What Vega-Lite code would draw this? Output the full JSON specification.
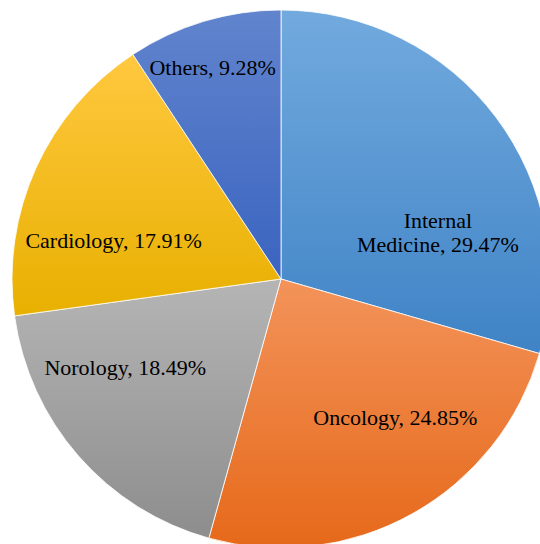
{
  "$schema": "https://vega.github.io/schema/vega-lite/v6.json",
  "width": 562,
  "height": 558,
  "padding": 0,
  "autosize": {"type": "none"},
  "background": "white",
  "config": {"view": {"stroke": null}},
  "data": {
    "values": [
      {"category": "Internal Medicine", "label": "Internal\nMedicine, 29.47%", "value": 29.47, "order": 1},
      {"category": "Oncology", "label": "Oncology, 24.85%", "value": 24.85, "order": 2},
      {"category": "Norology", "label": "Norology, 18.49%", "value": 18.49, "order": 3},
      {"category": "Cardiology", "label": "Cardiology, 17.91%", "value": 17.91, "order": 4},
      {"category": "Others", "label": "Others, 9.28%", "value": 9.28, "order": 5}
    ]
  },
  "encoding": {
    "theta": {"field": "value", "type": "quantitative", "stack": true, "scale": {"domain": [0, 100]}},
    "order": {"field": "order", "type": "quantitative"},
    "detail": {"field": "category", "type": "nominal"}
  },
  "layer": [
    {
      "mark": {"type": "arc", "outerRadius": 269, "stroke": "white", "strokeWidth": 0.8},
      "encoding": {
        "color": {
          "condition": [
            {"test": "datum.category === 'Internal Medicine'", "value": {"gradient": "linear", "x1": 0, "y1": 0, "x2": 0, "y2": 1, "stops": [{"offset": 0, "color": "#72aade"}, {"offset": 1, "color": "#3f83c6"}]}},
            {"test": "datum.category === 'Oncology'", "value": {"gradient": "linear", "x1": 0, "y1": 0, "x2": 0, "y2": 1, "stops": [{"offset": 0, "color": "#f3935a"}, {"offset": 1, "color": "#e6691a"}]}},
            {"test": "datum.category === 'Norology'", "value": {"gradient": "linear", "x1": 0, "y1": 0, "x2": 0, "y2": 1, "stops": [{"offset": 0, "color": "#b5b5b5"}, {"offset": 1, "color": "#8d8d8d"}]}},
            {"test": "datum.category === 'Cardiology'", "value": {"gradient": "linear", "x1": 0, "y1": 0, "x2": 0, "y2": 1, "stops": [{"offset": 0, "color": "#ffc83f"}, {"offset": 1, "color": "#e8b000"}]}}
          ],
          "value": {"gradient": "linear", "x1": 0, "y1": 0, "x2": 0, "y2": 1, "stops": [{"offset": 0, "color": "#6184cd"}, {"offset": 1, "color": "#3a64c0"}]}
        }
      }
    },
    {
      "mark": {
        "type": "text", "radius": 175, "font": "Liberation Serif", "fontSize": 22, "color": "black",
        "align": "center", "baseline": "middle", "lineBreak": "\n", "lineHeight": 24,
        "dx": {"expr": "datum.category === 'Internal Medicine' ? 17 : datum.category === 'Oncology' ? 29 : datum.category === 'Norology' ? -24 : datum.category === 'Cardiology' ? -8 : -18"},
        "dy": {"expr": "datum.category === 'Internal Medicine' ? 47 : datum.category === 'Oncology' ? -14 : datum.category === 'Norology' ? -26 : datum.category === 'Cardiology' ? 34 : -43"}
      },
      "encoding": {
        "text": {"field": "label", "type": "nominal"}
      }
    }
  ]
}
